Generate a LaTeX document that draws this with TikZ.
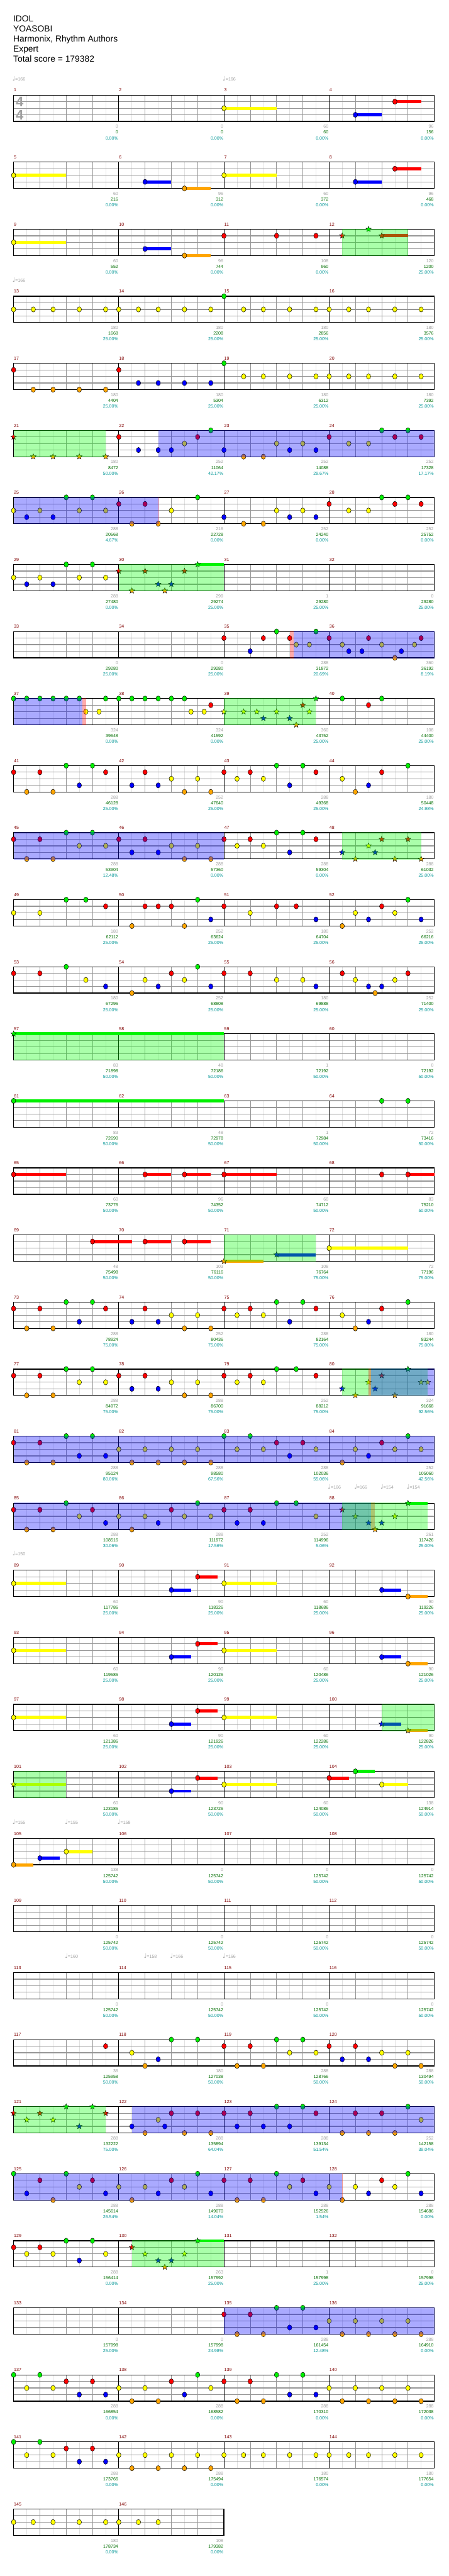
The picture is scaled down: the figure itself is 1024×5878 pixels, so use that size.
\documentclass[tikz,border=0pt]{standalone}
\usepackage{fontspec}
\setmainfont{Liberation Sans}
\newfontfamily\notefont{DejaVu Sans}
\usepackage{tikz}
\usetikzlibrary{shapes.geometric}
\definecolor{lane0}{RGB}{0,240,0}
\definecolor{lane1}{RGB}{255,0,0}
\definecolor{lane2}{RGB}{255,255,0}
\definecolor{lane3}{RGB}{0,0,255}
\definecolor{lane4}{RGB}{255,165,0}
\definecolor{barred}{RGB}{128,0,0}
\definecolor{gaingray}{RGB}{160,160,160}
\definecolor{scoregreen}{RGB}{0,110,0}
\definecolor{pctteal}{RGB}{0,150,150}
\definecolor{gridgray}{RGB}{150,150,150}
\definecolor{subgray}{RGB}{225,225,225}

\newcount\gemcount
% one chart row: #1 = row index, #2 = number of measures
\newcommand{\chartrow}[2]{%
  \def\rowidx{#1}%
  \pgfmathsetmacro{\rowtop}{217+153*#1}%
  \pgfmathsetmacro{\rowend}{31+240*#2}%
  \pgfmathtruncatemacro{\nsub}{4*#2-1}%
  \foreach \ei in {0,...,\nsub}{\draw[subline] ({61+60*\ei},\rowtop) -- ++(0,60);}%
  \foreach \bt in {1,...,\nsub}{%
    \pgfmathtruncatemacro{\bm}{mod(\bt,4)}%
    \ifnum\bm>0 \draw[beatline] ({31+60*\bt},\rowtop) -- ++(0,60);\fi}%
  \foreach \lv in {1,2,3}{\draw[laneline] (31,{\rowtop+15*\lv}) -- (\rowend,{\rowtop+15*\lv});}%
  \foreach \mj in {1,...,#2}{%
    \pgfmathtruncatemacro{\mn}{4*#1+\mj}%
    \draw[barline] ({31+240*(\mj-1)},\rowtop) -- ++(0,60);%
    \node[barnum] (bar\mn) at ({31.5+240*(\mj-1)},{\rowtop-7.5}) {\mn};}%
  \draw[staffframe] (31,\rowtop) rectangle (\rowend,{\rowtop+60});%
}
\newcommand{\gem}[2]{\filldraw[gem, fill=lane#2] ({31+30*#1},{\rowtop+15*#2}) ellipse [x radius=5, y radius=6];}
\newcommand{\hold}[3]{\fill[lane#3] ({31+30*#1},{\rowtop+15*#3-3.5}) rectangle ({31+30*#2},{\rowtop+15*#3+3.5});}
\newcommand{\sgem}[2]{\global\advance\gemcount by 1
  \node[spstar, fill=lane#2] (star\the\gemcount) at ({31+30*#1},{\rowtop+15*#2}) {};}
\newcommand{\zonesp}[2]{\fill[spzone] ({31+30*#1},{\rowtop-1}) rectangle ({31+30*#2},{\rowtop+61});}
\newcommand{\zoneod}[2]{\fill[odzone] ({31+30*#1},{\rowtop-1}) rectangle ({31+30*#2},{\rowtop+61});}
\newcommand{\zonered}[2]{\fill[redzone] ({31+30*#1},{\rowtop-1}) rectangle ({31+30*#2},{\rowtop+61});}
\newcommand{\tempo}[2]{\node[tempotext] (tempo\rowidx-#1) at ({28+30*#1},{\rowtop-33}) {{\notefont\fontsize{8}{8}\selectfont ♩}=#2};}
\newcommand{\tally}[4]{%
  \pgfmathtruncatemacro{\mn}{4*\rowidx+#1}%
  \node[gaintext, text=gaingray] (gain\mn) at ({30+240*#1},{\rowtop+75.6}) {#2};%
  \node[gaintext, text=scoregreen] (score\mn) at ({30+240*#1},{\rowtop+88.6}) {#3};%
  \node[gaintext, text=pctteal] (pct\mn) at ({30+240*#1},{\rowtop+101.6}) {#4\%};%
}

\begin{document}
\begin{tikzpicture}[
    x=0.02cm, y=-0.02cm,
    % grid of a chart row
    subline/.style={draw=subgray, line width=0.02cm},
    beatline/.style={draw=gridgray, line width=0.02cm},
    laneline/.style={draw=gridgray, line width=0.035cm},
    barline/.style={draw=black, line width=0.02cm},
    staffframe/.style={draw=black, line width=0.035cm},
    % notes
    gem/.style={draw=black, line width=0.014cm},
    spstar/.style={star, star points=5, star point ratio=2.3, minimum size=0.27cm,
        inner sep=0pt, draw=black, line width=0.012cm},
    % phrase overlays
    spzone/.style={fill=green, fill opacity=0.333},
    odzone/.style={fill=blue, fill opacity=0.333},
    redzone/.style={fill=red, fill opacity=0.333},
    % texts
    titletext/.style={anchor=base west, inner sep=0pt, font=\fontsize{11.3}{13}\selectfont},
    barnum/.style={anchor=base west, inner sep=0pt, text=barred, font=\fontsize{5.8}{7}\selectfont},
    gaintext/.style={anchor=base east, inner sep=0pt, font=\fontsize{5.8}{7}\selectfont},
    tempotext/.style={anchor=base west, inner sep=0pt, text=gaingray, font=\fontsize{5.8}{7}\selectfont},
    timesig/.style={inner sep=0pt, text=gaingray, font=\fontsize{18}{18}\bfseries\selectfont}
]
\fill[white] (0,0) rectangle (1024,5878);
\useasboundingbox (0,0) rectangle (1024,5878);

% 1. HEADER
\node[titletext] (song)   at (30,49)  {IDOL};
\node[titletext] (artist) at (30,72)  {YOASOBI};
\node[titletext] (author) at (30,95)  {Harmonix, Rhythm Authors};
\node[titletext] (level)  at (30,119) {Expert};
\node[titletext] (total)  at (30,142) {Total score = 179382};

% 2. ROWS
% measures 1-4
\chartrow{0}{4}
\node[timesig] (sigtop) at (45,233) {4};
\node[timesig] (sigbot) at (45,263) {4};
\tempo{0}{166} \tempo{16}{166}
\foreach \ps/\pe/\lv in {16/20/2,26/28/3,29/31/1}{\hold{\ps}{\pe}{\lv}}
\foreach \ps/\lv in {16/2,26/3,29/1}{\gem{\ps}{\lv}}
\foreach \mj/\ga/\gb/\gc in {1/0/0/0.00,2/0/0/0.00,3/60/60/0.00,4/96/156/0.00}{\tally{\mj}{\ga}{\gb}{\gc}}

% measures 5-8
\chartrow{1}{4}
\foreach \ps/\pe/\lv in {0/4/2,10/12/3,13/15/4,16/20/2,26/28/3,29/31/1}{\hold{\ps}{\pe}{\lv}}
\foreach \ps/\lv in {0/2,10/3,13/4,16/2,26/3,29/1}{\gem{\ps}{\lv}}
\foreach \mj/\ga/\gb/\gc in {1/60/216/0.00,2/96/312/0.00,3/60/372/0.00,4/96/468/0.00}{\tally{\mj}{\ga}{\gb}{\gc}}

% measures 9-12
\chartrow{2}{4}
\foreach \ps/\pe/\lv in {0/4/2,10/12/3,13/15/4,28/30/1}{\hold{\ps}{\pe}{\lv}}
\foreach \ps/\lv in {0/2,10/3,13/4,16/1,20/1,23/1}{\gem{\ps}{\lv}}
\foreach \ps/\lv in {25/1,27/0,28/1}{\sgem{\ps}{\lv}}
\zonesp{25}{30}
\foreach \mj/\ga/\gb/\gc in {1/60/552/0.00,2/96/744/0.00,3/108/960/0.00,4/120/1200/25.00}{\tally{\mj}{\ga}{\gb}{\gc}}

% measures 13-16
\chartrow{3}{4}
\tempo{0}{166}
\foreach \ps/\lv in {0/2,1.5/2,3/2,5/2,7/2,8/2,9.5/2,11/2,13/2,15/2,16/0,17.5/2,19/2,21/2,23/2,24/2,25.5/2,27/2,29/2,31/2}{\gem{\ps}{\lv}}
\foreach \mj/\ga/\gb/\gc in {1/180/1668/25.00,2/180/2208/25.00,3/180/2856/25.00,4/180/3576/25.00}{\tally{\mj}{\ga}{\gb}{\gc}}

% measures 17-20
\chartrow{4}{4}
\foreach \ps/\lv in {0/1,1.5/4,3/4,5/4,7/4,8/1,9.5/3,11/3,13/3,15/3,16/0,17.5/2,19/2,21/2,23/2,24/2,25.5/2,27/2,29/2,31/2}{\gem{\ps}{\lv}}
\foreach \mj/\ga/\gb/\gc in {1/180/4404/25.00,2/180/5304/25.00,3/180/6312/25.00,4/180/7392/25.00}{\tally{\mj}{\ga}{\gb}{\gc}}

% measures 21-24
\chartrow{5}{4}
\foreach \ps/\lv in {8/1,9.5/3,11/3,12/3,13/2,14/1,15/0,16/3,17.5/4,19/4,20/2,21/3,22/2,23/3,24/1,25.5/2,27/2,28/0,29/1,30/0,31/1}{\gem{\ps}{\lv}}
\foreach \ps/\lv in {0/1,1.5/4,3/4,5/4,7/4}{\sgem{\ps}{\lv}}
\zonesp{0}{7} \zoneod{11}{32}
\foreach \mj/\ga/\gb/\gc in {1/180/8472/50.00,2/252/11064/42.17,3/252/14088/29.67,4/252/17328/17.17}{\tally{\mj}{\ga}{\gb}{\gc}}

% measures 25-28
\chartrow{6}{4}
\foreach \ps/\lv in {0/2,1/3,2/2,3/3,4/0,5/2,6/0,7/2,8/1,9/4,10/1,11/4,12/2,14/0,16/3,17.5/4,19/4,20/2,21/3,22/2,23/3,24/1,25.5/2,27/2,28/0,29/1,30/0,31/1}{\gem{\ps}{\lv}}
\zoneod{0}{11} \zonered{11}{11.05}
\foreach \mj/\ga/\gb/\gc in {1/288/20568/4.67,2/216/22728/0.00,3/252/24240/0.00,4/252/25752/0.00}{\tally{\mj}{\ga}{\gb}{\gc}}

% measures 29-32
\chartrow{7}{4}
\hold{14}{16}{0}
\foreach \ps/\lv in {0/2,1/3,2/2,3/3,4/0,5/2,6/0,7/2}{\gem{\ps}{\lv}}
\foreach \ps/\lv in {8/1,9/4,10/1,11/3,11.5/4,12/3,13/1,14/0}{\sgem{\ps}{\lv}}
\zonesp{8}{16}
\foreach \mj/\ga/\gb/\gc in {1/288/27480/0.00,2/299/29274/25.00,3/1/29280/25.00,4/0/29280/25.00}{\tally{\mj}{\ga}{\gb}{\gc}}

% measures 33-36
\chartrow{8}{4}
\foreach \ps/\lv in {16/1,18/3,19/1,20/0,21/1,21.5/2,22.5/2,23/0,24/1,25/2,25.5/3,26.5/3,27/1,28/2,29/4,29.5/3,30.5/2,31/1}{\gem{\ps}{\lv}}
\zonered{21}{21.3} \zoneod{21.3}{32}
\foreach \mj/\ga/\gb/\gc in {1/0/29280/25.00,2/0/29280/25.00,3/288/31872/20.69,4/360/36192/8.19}{\tally{\mj}{\ga}{\gb}{\gc}}

% measures 37-40
\chartrow{9}{4}
\foreach \ps/\lv in {0/0,1/0,2/0,3/0,4/0,5/0,5.5/2,6.5/2,7/0,8/0,9/0,10/0,11/0,12/0,13/0,13.5/2,14.5/2,15/1,25/0,27/1,28/0}{\gem{\ps}{\lv}}
\foreach \ps/\lv in {16/2,17.5/2,18.5/2,19/3,20/2,21/3,21.5/4,22/1,22.5/2,23/0}{\sgem{\ps}{\lv}}
\zoneod{0}{5.25} \zonered{5.25}{5.5} \zonesp{16}{23}
\foreach \mj/\ga/\gb/\gc in {1/324/39648/0.00,2/324/41592/0.00,3/360/43752/25.00,4/108/44400/25.00}{\tally{\mj}{\ga}{\gb}{\gc}}

% measures 41-44
\chartrow{10}{4}
\foreach \ps/\lv in {0/1,1/4,2/1,3/4,4/0,5/3,6/0,7/1,9/3,10/1,11/3,12/2,13/4,14/2,15/4,16/1,17/2,18/1,19/2,20/0,21/3,22/0,23/1,25/2,26/4,27/3,28/1,30/0}{\gem{\ps}{\lv}}
\foreach \mj/\ga/\gb/\gc in {1/288/46128/25.00,2/252/47640/25.00,3/288/49368/25.00,4/180/50448/24.98}{\tally{\mj}{\ga}{\gb}{\gc}}

% measures 45-48
\chartrow{11}{4}
\foreach \ps/\lv in {0/1,1/4,2/1,3/4,4/0,5/2,6/0,7/2,8/1,9/3,10/1,11/3,12/2,13/4,14/2,15/4,16/1,17/2,18/1,19/2,20/0,21/3,22/0,23/1}{\gem{\ps}{\lv}}
\foreach \ps/\lv in {25/3,26/4,27/2,27.5/3,28/1,29/4,30/1,31/4}{\sgem{\ps}{\lv}}
\zoneod{0}{16} \zonesp{25}{31}
\foreach \mj/\ga/\gb/\gc in {1/288/53904/12.48,2/288/57360/0.00,3/288/59304/0.00,4/288/61032/25.00}{\tally{\mj}{\ga}{\gb}{\gc}}

% measures 49-52
\chartrow{12}{4}
\foreach \ps/\lv in {0/2,2/2,4/0,5.5/0,7/1,9/4,10/1,11/1,12/1,13/4,14/0,15/3,16/1,18/2,20/1,21.5/1,23/3,25/4,26/2,27/3,28/1,29/2,30/0,31/3}{\gem{\ps}{\lv}}
\foreach \mj/\ga/\gb/\gc in {1/180/62112/25.00,2/252/63624/25.00,3/180/64704/25.00,4/252/66216/25.00}{\tally{\mj}{\ga}{\gb}{\gc}}

% measures 53-56
\chartrow{13}{4}
\foreach \ps/\lv in {0/1,2/1,4/0,5.5/2,7/3,9/4,10/2,11/3,12/1,13/2,14/0,15/3,16/1,18/1,20/2,22/2,23/3,25/1,26/2,27/3,27.5/4,28/3,29/2,30/1}{\gem{\ps}{\lv}}
\foreach \mj/\ga/\gb/\gc in {1/180/67296/25.00,2/252/68808/25.00,3/180/69888/25.00,4/252/71400/25.00}{\tally{\mj}{\ga}{\gb}{\gc}}

% measures 57-60
\chartrow{14}{4}
\hold{0}{16}{0}
\sgem{0}{0}
\zonesp{0}{16}
\foreach \mj/\ga/\gb/\gc in {1/83/71898/50.00,2/48/72186/50.00,3/1/72192/50.00,4/0/72192/50.00}{\tally{\mj}{\ga}{\gb}{\gc}}

% measures 61-64
\chartrow{15}{4}
\hold{0}{16}{0}
\foreach \ps/\lv in {0/0,28/0,30/0}{\gem{\ps}{\lv}}
\foreach \mj/\ga/\gb/\gc in {1/83/72690/50.00,2/48/72978/50.00,3/1/72984/50.00,4/72/73416/50.00}{\tally{\mj}{\ga}{\gb}{\gc}}

% measures 65-68
\chartrow{16}{4}
\foreach \ps/\pe/\lv in {0/4/1,10/12/1,13/15/1,16/20/1,30/32/1}{\hold{\ps}{\pe}{\lv}}
\foreach \ps/\lv in {0/1,10/1,13/1,16/1,28/1,30/1}{\gem{\ps}{\lv}}
\foreach \mj/\ga/\gb/\gc in {1/60/73776/50.00,2/96/74352/50.00,3/60/74712/50.00,4/83/75210/50.00}{\tally{\mj}{\ga}{\gb}{\gc}}

% measures 69-72
\chartrow{17}{4}
\foreach \ps/\pe/\lv in {6/9/1,10/12/1,13/15/1,16/19/4,20/23/3,24/30/2}{\hold{\ps}{\pe}{\lv}}
\foreach \ps/\lv in {6/1,10/1,13/1,24/2}{\gem{\ps}{\lv}}
\foreach \ps/\lv in {16/4,20/3}{\sgem{\ps}{\lv}}
\zonesp{16}{23}
\foreach \mj/\ga/\gb/\gc in {1/48/75498/50.00,2/103/76116/50.00,3/108/76764/75.00,4/72/77196/75.00}{\tally{\mj}{\ga}{\gb}{\gc}}

% measures 73-76
\chartrow{18}{4}
\foreach \ps/\lv in {0/1,1/4,2/1,3/4,4/0,5/3,6/0,7/1,9/3,10/1,11/3,12/2,13/4,14/2,15/4,16/1,17/2,18/1,19/2,20/0,21/3,22/0,23/1,25/2,26/4,27/3,28/1,30/0}{\gem{\ps}{\lv}}
\foreach \mj/\ga/\gb/\gc in {1/288/78924/75.00,2/252/80436/75.00,3/288/82164/75.00,4/180/83244/75.00}{\tally{\mj}{\ga}{\gb}{\gc}}

% measures 77-80
\chartrow{19}{4}
\foreach \ps/\lv in {0/1,1/4,2/1,3/4,4/0,5/2,6/0,7/2,8/1,9/3,10/1,11/3,12/2,13/4,14/2,15/4,16/1,17/2,18/1,19/2,20/0,21.5/0,23/1}{\gem{\ps}{\lv}}
\foreach \ps/\lv in {25/3,26/4,27/2,27.5/3,28/1,29/4,30/0,31/2,31.5/2}{\sgem{\ps}{\lv}}
\zonesp{25}{31.5} \zonered{27}{27.2} \zoneod{27.2}{32}
\foreach \mj/\ga/\gb/\gc in {1/288/84972/75.00,2/288/86700/75.00,3/252/88212/75.00,4/324/91668/92.56}{\tally{\mj}{\ga}{\gb}{\gc}}

% measures 81-84
\chartrow{20}{4}
\foreach \ps/\lv in {0/1,1/4,2/1,3/4,4/0,5/3,6/0,7/3,8/2,9/4,10/2,11/4,12/2,13/4,14/2,15/4,16/0,17/2,18/0,19/2,20/1,21/3,22/1,23/2,25/4,26/2,27/3,28/1,29/2,30/0,31/2}{\gem{\ps}{\lv}}
\zoneod{0}{32}
\foreach \mj/\ga/\gb/\gc in {1/288/95124/80.06,2/288/98580/67.56,3/288/102036/55.06,4/252/105060/42.56}{\tally{\mj}{\ga}{\gb}{\gc}}

% measures 85-88
\chartrow{21}{4}
\tempo{24}{166} \tempo{26}{166} \tempo{28}{154} \tempo{30}{154}
\hold{30}{31.5}{0}
\foreach \ps/\lv in {0/1,1/4,2/1,3/4,4/0,5/2,6/1,7/3,8/2,9/4,10/2,11/3,12/1,13/2,14/0,15/2,16/1,17/3,18/1,19/3,20/0,21.5/0,23/2}{\gem{\ps}{\lv}}
\foreach \ps/\lv in {25/1,26/2,27/3,27.5/4,28/3,29/2,30/0}{\sgem{\ps}{\lv}}
\zoneod{0}{27.2} \zonered{27.2}{27.5} \zonesp{25}{31.5}
\foreach \mj/\ga/\gb/\gc in {1/288/108516/30.06,2/288/111972/17.56,3/252/114996/5.06,4/261/117426/25.00}{\tally{\mj}{\ga}{\gb}{\gc}}

% measures 89-92
\chartrow{22}{4}
\tempo{0}{150}
\foreach \ps/\pe/\lv in {0/4/2,12/13.5/3,14/15.5/1,16/20/2,28/29.5/3,30/31.5/4}{\hold{\ps}{\pe}{\lv}}
\foreach \ps/\lv in {0/2,12/3,14/1,16/2,28/3,30/4}{\gem{\ps}{\lv}}
\foreach \mj/\ga/\gb/\gc in {1/60/117786/25.00,2/90/118326/25.00,3/60/118686/25.00,4/90/119226/25.00}{\tally{\mj}{\ga}{\gb}{\gc}}

% measures 93-96
\chartrow{23}{4}
\foreach \ps/\pe/\lv in {0/4/2,12/13.5/3,14/15.5/1,16/20/2,28/29.5/3,30/31.5/4}{\hold{\ps}{\pe}{\lv}}
\foreach \ps/\lv in {0/2,12/3,14/1,16/2,28/3,30/4}{\gem{\ps}{\lv}}
\foreach \mj/\ga/\gb/\gc in {1/60/119586/25.00,2/90/120126/25.00,3/60/120486/25.00,4/90/121026/25.00}{\tally{\mj}{\ga}{\gb}{\gc}}

% measures 97-100
\chartrow{24}{4}
\foreach \ps/\pe/\lv in {0/4/2,12/13.5/3,14/15.5/1,16/20/2,28/29.5/3,30/31.5/4}{\hold{\ps}{\pe}{\lv}}
\foreach \ps/\lv in {0/2,12/3,14/1,16/2}{\gem{\ps}{\lv}}
\foreach \ps/\lv in {28/3,30/4}{\sgem{\ps}{\lv}}
\zonesp{28}{32}
\foreach \mj/\ga/\gb/\gc in {1/60/121386/25.00,2/90/121926/25.00,3/60/122286/25.00,4/90/122826/25.00}{\tally{\mj}{\ga}{\gb}{\gc}}

% measures 101-104
\chartrow{25}{4}
\foreach \ps/\pe/\lv in {0/4/2,12/13.5/3,14/15.5/1,16/20/2,24/25.5/1,26/27.5/0,28/30/2}{\hold{\ps}{\pe}{\lv}}
\foreach \ps/\lv in {12/3,14/1,16/2,24/1,26/0,28/2}{\gem{\ps}{\lv}}
\sgem{0}{2}
\zonesp{0}{4}
\foreach \mj/\ga/\gb/\gc in {1/60/123186/50.00,2/90/123726/50.00,3/60/124086/50.00,4/138/124914/50.00}{\tally{\mj}{\ga}{\gb}{\gc}}

% measures 105-108
\chartrow{26}{4}
\tempo{0}{155} \tempo{4}{155} \tempo{8}{158}
\foreach \ps/\pe/\lv in {0/1.5/4,2/3.5/3,4/6/2}{\hold{\ps}{\pe}{\lv}}
\foreach \ps/\lv in {0/4,2/3,4/2}{\gem{\ps}{\lv}}
\foreach \mj/\ga/\gb/\gc in {1/138/125742/50.00,2/0/125742/50.00,3/0/125742/50.00,4/0/125742/50.00}{\tally{\mj}{\ga}{\gb}{\gc}}

% measures 109-112
\chartrow{27}{4}
\foreach \mj/\ga/\gb/\gc in {1/0/125742/50.00,2/0/125742/50.00,3/0/125742/50.00,4/0/125742/50.00}{\tally{\mj}{\ga}{\gb}{\gc}}

% measures 113-116
\chartrow{28}{4}
\tempo{4}{160} \tempo{10}{158} \tempo{12}{166} \tempo{16}{166}
\foreach \mj/\ga/\gb/\gc in {1/0/125742/50.00,2/0/125742/50.00,3/0/125742/50.00,4/0/125742/50.00}{\tally{\mj}{\ga}{\gb}{\gc}}

% measures 117-120
\chartrow{29}{4}
\foreach \ps/\lv in {7/1,9/2,10/4,11/3,12/0,14/0,16/1,17/4,18/1,19/4,20/0,21/2,22/0,23/2,24/1,25/3,26/1,27/3,28/2,29/4,30/2,31/4}{\gem{\ps}{\lv}}
\foreach \mj/\ga/\gb/\gc in {1/36/125958/50.00,2/180/127038/50.00,3/288/128766/50.00,4/288/130494/50.00}{\tally{\mj}{\ga}{\gb}{\gc}}

% measures 121-124
\chartrow{30}{4}
\foreach \ps/\lv in {9/3,10/4,11/2,11.5/3,12/1,13/4,14/1,15/4,16/1,17/3,18/1,19/3,20/0,21/3,22/0,23/1,25/4,26/1,27/4,28/1,29/4,30/0,31/2}{\gem{\ps}{\lv}}
\foreach \ps/\lv in {0/1,1/2,2/1,3/2,4/0,5/3,6/0,7/1}{\sgem{\ps}{\lv}}
\zonesp{0}{7} \zoneod{9}{32}
\foreach \mj/\ga/\gb/\gc in {1/288/132222/75.00,2/288/135894/64.04,3/288/139134/51.54,4/252/142158/39.04}{\tally{\mj}{\ga}{\gb}{\gc}}

% measures 125-128
\chartrow{31}{4}
\foreach \ps/\lv in {0/0,1/3,2/1,3/4,4/0,5/2,6/1,7/3,8/2,9/4,10/2,11/3,12/1,13/2,14/0,15/3,16/1,17/4,18/1,19/4,20/0,21/2,22/1,23/3,24/2,25/4,26/2,27/3,28/1,29/2,30/0,31/3}{\gem{\ps}{\lv}}
\zoneod{0}{25} \zonered{25}{25.05}
\foreach \mj/\ga/\gb/\gc in {1/288/145614/26.54,2/288/149070/14.04,3/288/152526/1.54,4/288/154686/0.00}{\tally{\mj}{\ga}{\gb}{\gc}}

% measures 129-132
\chartrow{32}{4}
\hold{14}{16}{0}
\foreach \ps/\lv in {0/1,1/2,2/1,3/2,4/0,5/3,6/0,7/2}{\gem{\ps}{\lv}}
\foreach \ps/\lv in {9/1,10/2,11/3,11.5/4,12/3,13/2,14/0}{\sgem{\ps}{\lv}}
\zonesp{9}{16}
\foreach \mj/\ga/\gb/\gc in {1/288/156414/0.00,2/263/157992/25.00,3/1/157998/25.00,4/0/157998/25.00}{\tally{\mj}{\ga}{\gb}{\gc}}

% measures 133-136
\chartrow{33}{4}
\foreach \ps/\lv in {16/1,17/4,18/1,19/4,20/0,21/3,22/0,23/3,24/2,25/4,26/2,27/4,28/2,29/4,30/2,31/4}{\gem{\ps}{\lv}}
\zoneod{16}{32}
\foreach \mj/\ga/\gb/\gc in {1/0/157998/25.00,2/0/157998/24.98,3/288/161454/12.48,4/288/164910/0.00}{\tally{\mj}{\ga}{\gb}{\gc}}

% measures 137-140
\chartrow{34}{4}
\foreach \ps/\lv in {0/0,1/2,2/0,3/2,4/1,5/3,6/1,7/3,8/2,9/4,10/2,11/4,12/1,13/3,14/0,15/2,16/1,17/4,18/1,19/4,20/0,21/3,22/0,23/3,24/2,25/4,26/2,27/4,28/2,29/4,30/2,31/4}{\gem{\ps}{\lv}}
\foreach \mj/\ga/\gb/\gc in {1/288/166854/0.00,2/288/168582/0.00,3/288/170310/0.00,4/288/172038/0.00}{\tally{\mj}{\ga}{\gb}{\gc}}

% measures 141-144
\chartrow{35}{4}
\foreach \ps/\lv in {0/0,1/2,2/0,3/2,4/1,5/3,6/1,7/3,8/2,9/4,10/2,11/4,12/2,13/4,14/2,15/4,16/2,17.5/2,19/2,21/2,23/2,24/2,25.5/2,27/2,29/2,31/2}{\gem{\ps}{\lv}}
\foreach \mj/\ga/\gb/\gc in {1/288/173766/0.00,2/288/175494/0.00,3/180/176574/0.00,4/180/177654/0.00}{\tally{\mj}{\ga}{\gb}{\gc}}

% measures 145-146
\chartrow{36}{2}
\foreach \ps/\lv in {0/2,1.5/2,3/2,5/2,7/2,8/2,9.5/2,11/2}{\gem{\ps}{\lv}}
\foreach \mj/\ga/\gb/\gc in {1/180/178734/0.00,2/108/179382/0.00}{\tally{\mj}{\ga}{\gb}{\gc}}

\end{tikzpicture}
\end{document}
